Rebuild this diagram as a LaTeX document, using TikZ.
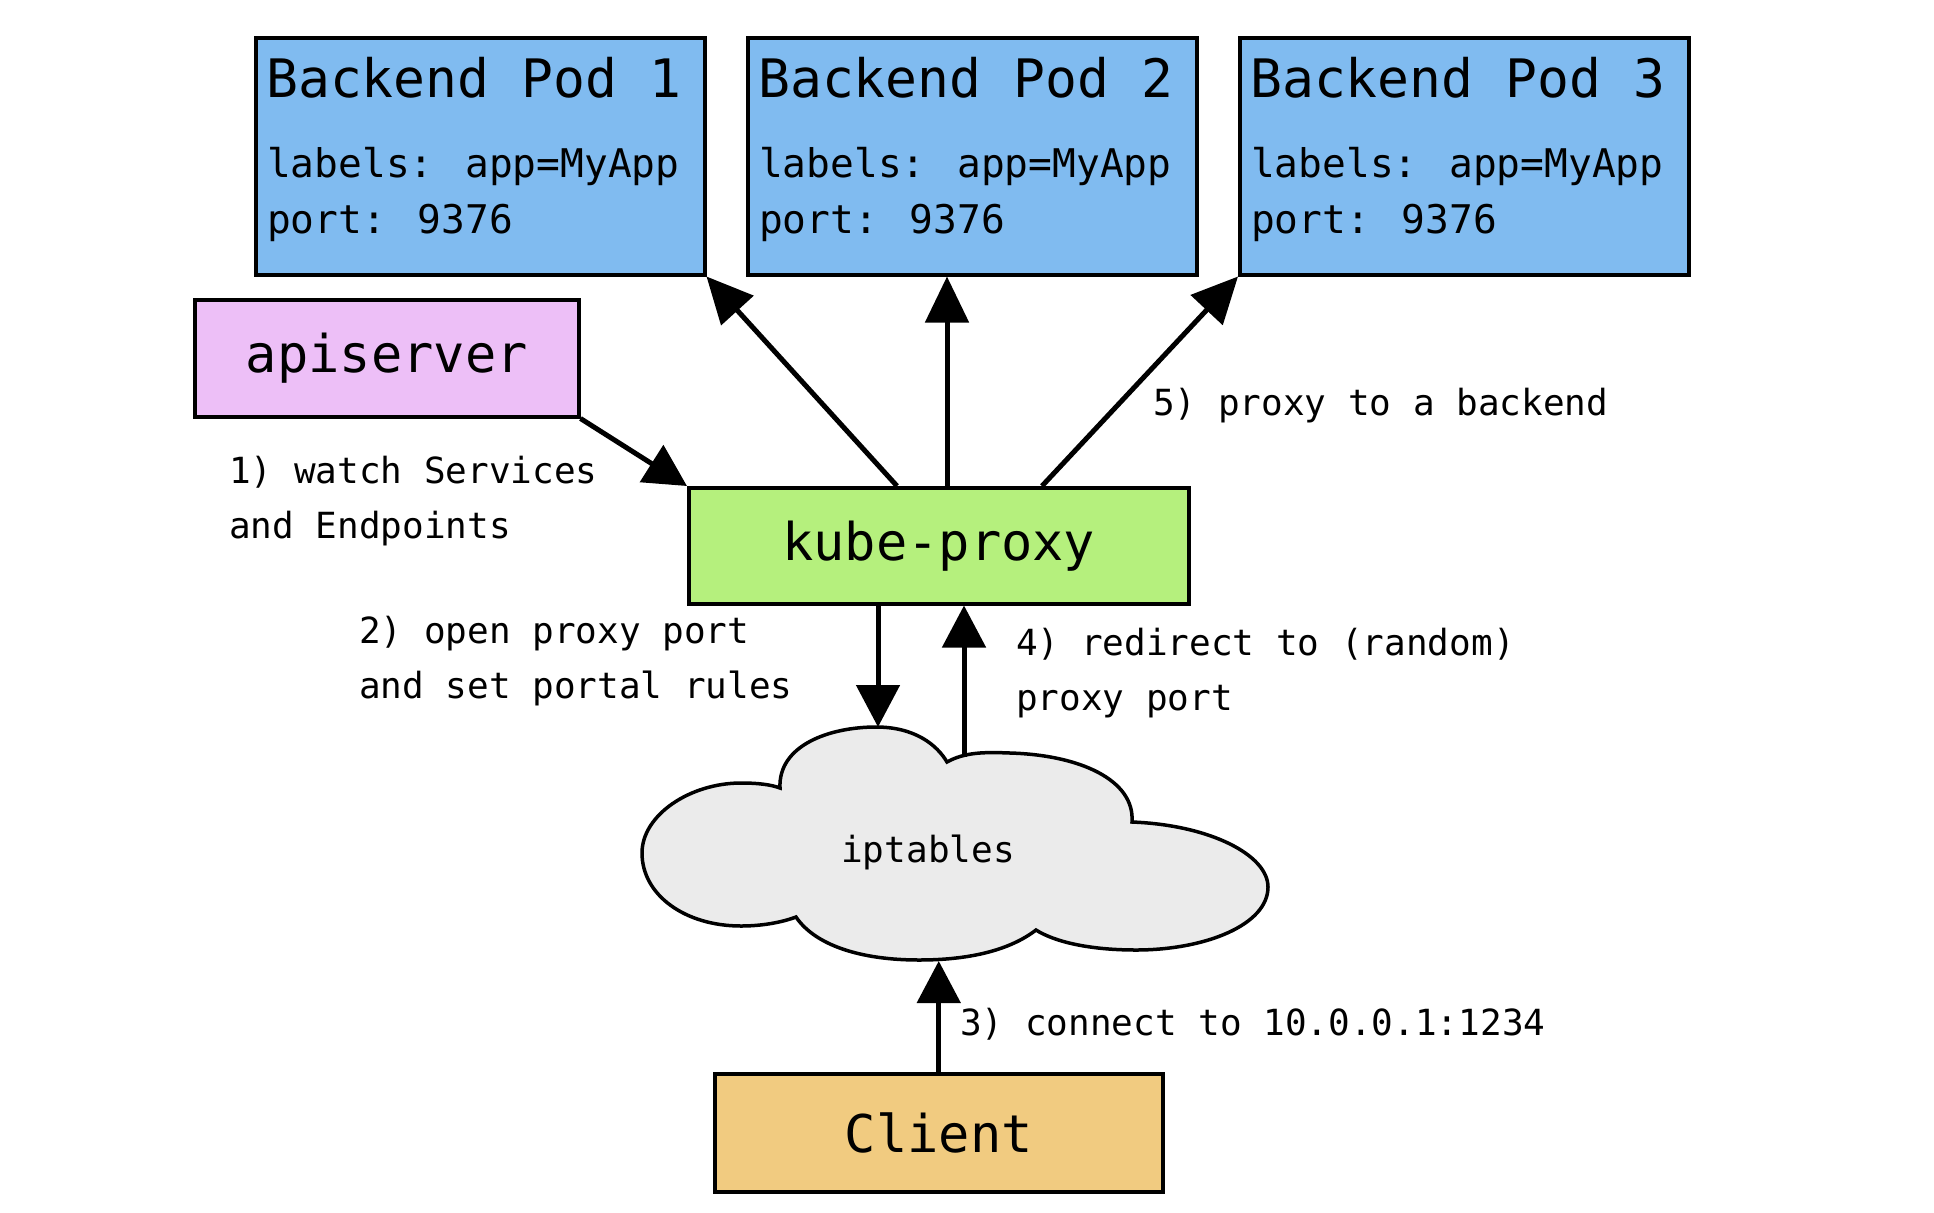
\documentclass[tikz,border=0pt]{standalone}
\usepackage{fontspec}
\usetikzlibrary{arrows.meta,calc}
\newfontfamily\dmono{DejaVu Sans Mono}
\definecolor{podblue}{RGB}{128,187,240}
\definecolor{apipink}{RGB}{237,191,247}
\definecolor{kpgreen}{RGB}{181,240,125}
\definecolor{clientor}{RGB}{241,203,128}
\definecolor{cloudgray}{RGB}{235,235,235}
\tikzset{
  box/.style={draw=black, line width=3.5bp, inner sep=0pt, anchor=north west},
  podbox/.style={box, fill=podblue, minimum width=449bp, minimum height=237bp},
  bigtxt/.style={font=\dmono\fontsize{52bp}{60bp}\selectfont},
  podtitle/.style={anchor=base west, inner sep=0pt, font=\dmono\fontsize{53bp}{60bp}\selectfont},
  podline/.style={anchor=base west, inner sep=0pt, font=\dmono\fontsize{39.5bp}{56bp}\selectfont},
  elabel/.style={anchor=base west, inner sep=0pt, font=\dmono\fontsize{36bp}{55bp}\selectfont},
  conn/.style={line width=5bp, -{Triangle[length=42bp,width=43bp]}},
}
\begin{document}
\begin{tikzpicture}[x=1bp,y=-1bp]
\useasboundingbox[fill=white] (0,0) rectangle (1934,1212);

% backend pods
\node[podbox] (p1) at (254,36) {};
\node[podbox] (p2) at (746,36) {};
\node[podbox] (p3) at (1238,36) {};
\foreach \p/\n in {p1/1,p2/2,p3/3}{
  \node[podtitle] (\p t) at ($(\p.north west)+(12,61)$) {Backend Pod \n};
  \node[podline] (\p l) at ($(\p.north west)+(13,141)$) {labels: app=MyApp};
  \node[podline] (\p r) at ($(\p.north west)+(13,197)$) {port: 9376};
}

% apiserver
\node[box, fill=apipink, minimum width=384bp, minimum height=117bp, bigtxt] (api) at (193,298) {apiserver};

% kube-proxy
\node[box, fill=kpgreen, minimum width=500bp, minimum height=116bp, bigtxt] (kp) at (687,486) {kube-proxy};

% client
\node[box, fill=clientor, minimum width=448bp, minimum height=118bp, bigtxt] (client) at (713,1072) {Client};

% cloud
\draw[line width=3.5bp, fill=cloudgray]
  (780,788) .. controls (778,745) and (830,727) .. (876,727)
  .. controls (915,727) and (937,745) .. (947,762)
  .. controls (965,752) and (985,752) .. (1010,753)
  .. controls (1080,755) and (1135,780) .. (1132,822)
  .. controls (1210,825) and (1268,855) .. (1268,887)
  .. controls (1268,925) and (1205,950) .. (1136,950)
  .. controls (1090,950) and (1055,942) .. (1036,930)
  .. controls (1010,950) and (970,960) .. (919,960)
  .. controls (860,960) and (815,945) .. (796,917)
  .. controls (780,923) and (760,926) .. (741,926)
  .. controls (685,926) and (642,895) .. (642,853)
  .. controls (642,815) and (690,783) .. (741,783)
  .. controls (760,783) and (772,785) .. (780,788) -- cycle;
\node[inner sep=0pt, font=\dmono\fontsize{36bp}{44bp}\selectfont] (cloud) at (928,852) {iptables};
\coordinate (cloudtop) at (878,727);
\coordinate (cloudout) at (964,757);
\coordinate (cloudbot) at (937,961);

% connectors
\draw[conn] (api.south east) -- (kp.north west);
\coordinate (s1) at ($(kp.north west)+(210,0)$);
\coordinate (s2) at ($(kp.north west)+(260,0)$);
\coordinate (s3) at ($(kp.north west)+(355,0)$);
\draw[conn, -{Triangle[length=46bp,width=43bp]}] (s1) -- (p1.south east);
\draw[conn, -{Triangle[length=46bp,width=43bp]}] (s2) -- (s2 |- p2.south);
\draw[conn, -{Triangle[length=46bp,width=43bp]}] (s3) -- (p3.south west);
\coordinate (d1) at ($(kp.south west)+(191,0)$);
\draw[conn] (d1) -- (d1 |- cloudtop);
\draw[conn] (cloudout) -- (cloudout |- kp.south);
\draw[conn] (client.north) -- (client.north |- cloudbot);

% labels
\node[elabel] (l1) at (229,483) {\begin{tabular}[t]{@{}l@{}}1) watch Services\\and Endpoints\end{tabular}};
\node[elabel] (l2) at (359,643) {\begin{tabular}[t]{@{}l@{}}2) open proxy port\\and set portal rules\end{tabular}};
\node[elabel] (l3) at (960,1035) {3) connect to 10.0.0.1:1234};
\node[elabel] (l4) at (1016,655) {\begin{tabular}[t]{@{}l@{}}4) redirect to (random)\\proxy port\end{tabular}};
\node[elabel] (l5) at (1153,415) {5) proxy to a backend};
\end{tikzpicture}
\end{document}
